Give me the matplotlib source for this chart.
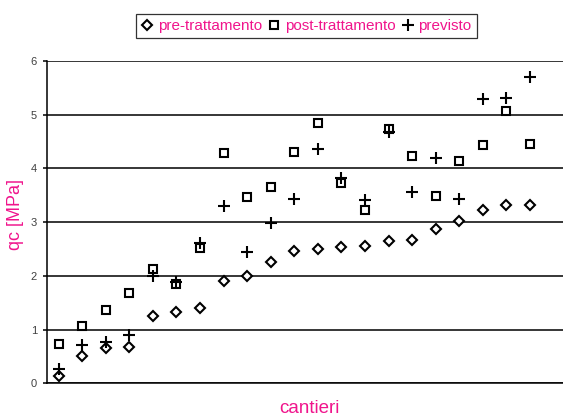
import numpy as np
import matplotlib.pyplot as plt

# valori qc [MPa] per cantiere
pre_trattamento = [0.13, 0.51, 0.65, 0.68, 1.26, 1.32, 1.41, 1.91, 2.00, 2.26, 2.46,
                   2.50, 2.53, 2.55, 2.64, 2.66, 2.87, 3.02, 3.23, 3.32, 3.32]
post_trattamento = [0.73, 1.07, 1.36, 1.69, 2.13, 1.85, 2.51, 4.28, 3.47, 3.65, 4.31,
                    4.84, 3.73, 3.23, 4.73, 4.23, 3.48, 4.13, 4.43, 5.07, 4.45]
previsto = [0.26, 0.71, 0.76, 0.90, 2.00, 1.89, 2.61, 3.30, 2.45, 2.98, 3.43,
            4.37, 3.83, 3.42, 4.68, 3.57, 4.20, 3.44, 5.29, 5.32, 5.70]
y_ticks = [0, 1, 2, 3, 4, 5, 6]

PINK = '#F0148C'

plt.rcParams['font.family'] = ['Liberation Sans', 'DejaVu Sans']

fig = plt.figure(figsize=(5.63, 4.15), dpi=100)
ax = fig.add_axes([0.083, 0.0764, 0.917, 0.7766])

x = np.arange(len(pre_trattamento)) + 0.5

ax.plot(x, pre_trattamento, linestyle='none', marker='D', ms=5.2, mfc='white',
        mec='black', mew=1.5, label='pre-trattamento', zorder=3)
ax.plot(x, post_trattamento, linestyle='none', marker='s', ms=6.2, mfc='none',
        mec='black', mew=1.5, label='post-trattamento', zorder=3)
ax.plot(x, previsto, linestyle='none', marker='+', ms=8.5, mec='black',
        mew=1.5, label='previsto', zorder=4)

ax.set_xlim(0, 21.9)
ax.set_ylim(0, 6)
ax.set_yticks(y_ticks)
ax.set_yticklabels([str(t) for t in y_ticks], fontsize=8, color='#404040')
ax.set_xticks([])
ax.grid(axis='y', color='black', linewidth=1.1)
ax.set_axisbelow(True)
for s in ['top', 'right']:
    ax.spines[s].set_visible(False)
ax.spines['left'].set_linewidth(1.1)
ax.spines['bottom'].set_linewidth(1.1)
ax.tick_params(axis='y', direction='out', length=3, width=1.1, pad=4)

# etichette assi
fig.text(0.027, 0.482, 'qc [MPa]', fontsize=13, color=PINK, rotation=90,
         ha='center', va='center')
fig.text(0.549, 0.006, 'cantieri', fontsize=13.5, color=PINK, ha='center', va='baseline')

leg = fig.legend(loc='center', bbox_to_anchor=(0.544, 0.937), ncol=3, fontsize=11,
                 frameon=True, fancybox=False, handlelength=0.8, handletextpad=0.3,
                 columnspacing=0.4, borderpad=0.35, borderaxespad=0)
leg.get_frame().set_edgecolor('black')
leg.get_frame().set_linewidth(0.9)
for t in leg.get_texts():
    t.set_color(PINK)

fig.savefig('out.png', dpi=100)
